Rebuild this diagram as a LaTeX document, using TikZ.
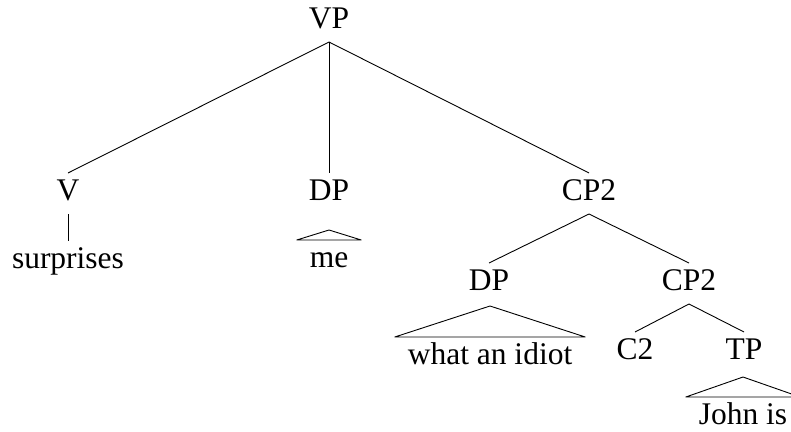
\documentclass[tikz,border=0pt]{standalone}
\usepackage{fontspec}
\setmainfont{Liberation Serif}
\usetikzlibrary{calc}
\tikzset{
	cat/.style={anchor=base, text height=22pt, text depth=9pt, inner sep=5pt, outer sep=0pt},
	leaf/.style={cat, inner xsep=13pt},
}
% roof over a leaf: node name, height
\newcommand{\roof}[2]{\draw (#1.north west) -- ($(#1.north)+(0,-#2)$) -- (#1.north east) -- cycle;}
\begin{document}
\begin{tikzpicture}[x=1pt, y=-1pt, line width=0.9pt, line join=round, font=\fontsize{31.5}{36}\selectfont]
			\useasboundingbox (0,0) rectangle (791,431);
			\node[cat] (VP) at (329,28) {VP};
			\node[cat] (V) at (68,200) {V};
			\node[cat] (DPa) at (329,200) {DP};
			\node[cat] (CPa) at (589,200) {CP2};
			\node[cat] (surprises) at (68,268) {surprises};
			\node[leaf] (me) at (329,267) {me};
			\node[cat] (DPb) at (489,290) {DP};
			\node[cat] (CPb) at (689,290) {CP2};
			\node[leaf] (idiot) at (490,364) {what an idiot};
			\node[cat] (C) at (635,359) {C2};
			\node[cat] (TP) at (744,359) {TP};
			\node[leaf] (john) at (743,424) {John is};
			\foreach \t in {V,DPa,CPa}{
				\draw (VP.south)--(\t.north);
			}
			\draw (V.south)--(surprises.north);
			\draw (CPa.south)--(DPb.north);
			\draw (CPa.south)--(CPb.north);
			\draw (CPb.south)--(C.north);
			\draw (CPb.south)--(TP.north);
			\roof{me}{10}
			\roof{idiot}{31}
			\roof{john}{20}
	\end{tikzpicture}
\end{document}
